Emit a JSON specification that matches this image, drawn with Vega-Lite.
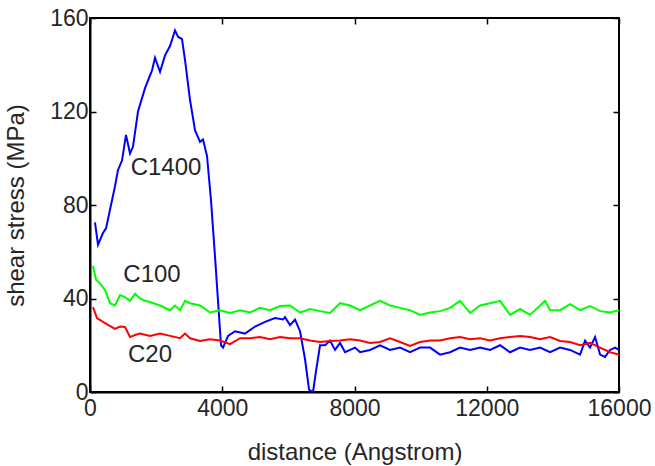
{
  "$schema": "https://vega.github.io/schema/vega-lite/v6.json",
  "width": 529,
  "height": 374,
  "autosize": "none",
  "padding": {"left": 90, "top": 18, "right": 36, "bottom": 74},
  "background": "white",
  "config": {
    "view": {"stroke": "black", "strokeWidth": 2},
    "font": "Liberation Sans",
    "axis": {
      "domainColor": "black", "domainWidth": 2, "tickColor": "black", "tickWidth": 1.5,
      "tickSize": -6, "grid": false, "labelFontSize": 23, "labelColor": "#262626", "labelFlush": false,
      "titleFontSize": 24, "titleColor": "#262626", "titleFontWeight": "normal",
      "labelFont": "Liberation Sans", "titleFont": "Liberation Sans"
    }
  },
  "datasets": {
    "curves": [
      {"x": 151, "y": 72.6, "s": "C1400"}, {"x": 242, "y": 63, "s": "C1400"}, {"x": 393, "y": 68, "s": "C1400"}, {"x": 484, "y": 70, "s": "C1400"},
      {"x": 605, "y": 78, "s": "C1400"}, {"x": 756, "y": 88, "s": "C1400"}, {"x": 847, "y": 95, "s": "C1400"}, {"x": 968, "y": 99, "s": "C1400"},
      {"x": 1089, "y": 110, "s": "C1400"}, {"x": 1210, "y": 102, "s": "C1400"}, {"x": 1301, "y": 105, "s": "C1400"}, {"x": 1452, "y": 120, "s": "C1400"},
      {"x": 1664, "y": 130, "s": "C1400"}, {"x": 1876, "y": 137.6, "s": "C1400"}, {"x": 1966, "y": 143, "s": "C1400"}, {"x": 2118, "y": 137, "s": "C1400"},
      {"x": 2269, "y": 144, "s": "C1400"}, {"x": 2420, "y": 148, "s": "C1400"}, {"x": 2571, "y": 154.7, "s": "C1400"}, {"x": 2662, "y": 152, "s": "C1400"},
      {"x": 2783, "y": 151, "s": "C1400"}, {"x": 2874, "y": 142, "s": "C1400"}, {"x": 3025, "y": 125, "s": "C1400"}, {"x": 3176, "y": 112, "s": "C1400"},
      {"x": 3328, "y": 107, "s": "C1400"}, {"x": 3418, "y": 108, "s": "C1400"}, {"x": 3539, "y": 101, "s": "C1400"}, {"x": 3660, "y": 82, "s": "C1400"},
      {"x": 3781, "y": 58, "s": "C1400"}, {"x": 3872, "y": 39, "s": "C1400"}, {"x": 3963, "y": 20, "s": "C1400"}, {"x": 4023, "y": 19, "s": "C1400"},
      {"x": 4175, "y": 24, "s": "C1400"}, {"x": 4386, "y": 26, "s": "C1400"}, {"x": 4689, "y": 25, "s": "C1400"}, {"x": 4991, "y": 28, "s": "C1400"},
      {"x": 5294, "y": 30, "s": "C1400"}, {"x": 5596, "y": 31.6, "s": "C1400"}, {"x": 5838, "y": 31, "s": "C1400"}, {"x": 5899, "y": 32, "s": "C1400"},
      {"x": 6050, "y": 28.6, "s": "C1400"}, {"x": 6201, "y": 31, "s": "C1400"}, {"x": 6353, "y": 26, "s": "C1400"}, {"x": 6504, "y": 14, "s": "C1400"},
      {"x": 6625, "y": 1, "s": "C1400"}, {"x": 6746, "y": 0, "s": "C1400"}, {"x": 6837, "y": 9, "s": "C1400"}, {"x": 6958, "y": 20, "s": "C1400"},
      {"x": 7109, "y": 20, "s": "C1400"}, {"x": 7260, "y": 22, "s": "C1400"}, {"x": 7411, "y": 18, "s": "C1400"}, {"x": 7563, "y": 21, "s": "C1400"},
      {"x": 7714, "y": 17, "s": "C1400"}, {"x": 7865, "y": 18, "s": "C1400"}, {"x": 8016, "y": 19, "s": "C1400"}, {"x": 8168, "y": 17, "s": "C1400"},
      {"x": 8470, "y": 18, "s": "C1400"}, {"x": 8773, "y": 20, "s": "C1400"}, {"x": 9075, "y": 18, "s": "C1400"}, {"x": 9378, "y": 19, "s": "C1400"},
      {"x": 9680, "y": 17, "s": "C1400"}, {"x": 9983, "y": 19, "s": "C1400"}, {"x": 10285, "y": 19, "s": "C1400"}, {"x": 10588, "y": 16, "s": "C1400"},
      {"x": 10890, "y": 17, "s": "C1400"}, {"x": 11193, "y": 19, "s": "C1400"}, {"x": 11495, "y": 18, "s": "C1400"}, {"x": 11798, "y": 19, "s": "C1400"},
      {"x": 12100, "y": 18, "s": "C1400"}, {"x": 12403, "y": 20, "s": "C1400"}, {"x": 12705, "y": 17, "s": "C1400"}, {"x": 13008, "y": 19, "s": "C1400"},
      {"x": 13310, "y": 18, "s": "C1400"}, {"x": 13613, "y": 19, "s": "C1400"}, {"x": 13915, "y": 17, "s": "C1400"}, {"x": 14218, "y": 19, "s": "C1400"},
      {"x": 14520, "y": 18, "s": "C1400"}, {"x": 14823, "y": 16, "s": "C1400"}, {"x": 14974, "y": 22, "s": "C1400"}, {"x": 15125, "y": 19, "s": "C1400"},
      {"x": 15276, "y": 23.5, "s": "C1400"}, {"x": 15428, "y": 16, "s": "C1400"}, {"x": 15579, "y": 15, "s": "C1400"}, {"x": 15730, "y": 18, "s": "C1400"},
      {"x": 15881, "y": 19, "s": "C1400"}, {"x": 16000, "y": 18, "s": "C1400"},

      {"x": 91, "y": 54, "s": "C100"}, {"x": 182, "y": 48, "s": "C100"}, {"x": 303, "y": 46.5, "s": "C100"}, {"x": 454, "y": 43.6, "s": "C100"},
      {"x": 605, "y": 38, "s": "C100"}, {"x": 756, "y": 37, "s": "C100"}, {"x": 908, "y": 41.5, "s": "C100"}, {"x": 1059, "y": 40.6, "s": "C100"},
      {"x": 1210, "y": 39, "s": "C100"}, {"x": 1361, "y": 42, "s": "C100"}, {"x": 1513, "y": 40, "s": "C100"}, {"x": 1664, "y": 39, "s": "C100"},
      {"x": 1815, "y": 38.5, "s": "C100"}, {"x": 2118, "y": 37, "s": "C100"}, {"x": 2420, "y": 35, "s": "C100"}, {"x": 2571, "y": 37, "s": "C100"},
      {"x": 2723, "y": 35, "s": "C100"}, {"x": 2874, "y": 39, "s": "C100"}, {"x": 3025, "y": 38, "s": "C100"}, {"x": 3328, "y": 37, "s": "C100"},
      {"x": 3630, "y": 34, "s": "C100"}, {"x": 3933, "y": 35, "s": "C100"}, {"x": 4235, "y": 33.8, "s": "C100"}, {"x": 4538, "y": 35, "s": "C100"},
      {"x": 4840, "y": 34, "s": "C100"}, {"x": 5143, "y": 36, "s": "C100"}, {"x": 5445, "y": 35, "s": "C100"}, {"x": 5748, "y": 36.8, "s": "C100"},
      {"x": 6050, "y": 37, "s": "C100"}, {"x": 6353, "y": 34, "s": "C100"}, {"x": 6655, "y": 35.5, "s": "C100"}, {"x": 6958, "y": 34.6, "s": "C100"},
      {"x": 7260, "y": 33.8, "s": "C100"}, {"x": 7563, "y": 38, "s": "C100"}, {"x": 7865, "y": 37, "s": "C100"}, {"x": 8168, "y": 35, "s": "C100"},
      {"x": 8470, "y": 37, "s": "C100"}, {"x": 8773, "y": 39, "s": "C100"}, {"x": 9075, "y": 37, "s": "C100"}, {"x": 9378, "y": 36, "s": "C100"},
      {"x": 9680, "y": 35, "s": "C100"}, {"x": 9983, "y": 33, "s": "C100"}, {"x": 10285, "y": 34, "s": "C100"}, {"x": 10588, "y": 34.6, "s": "C100"},
      {"x": 10890, "y": 36, "s": "C100"}, {"x": 11193, "y": 39, "s": "C100"}, {"x": 11495, "y": 33.8, "s": "C100"}, {"x": 11798, "y": 37, "s": "C100"},
      {"x": 12100, "y": 38, "s": "C100"}, {"x": 12403, "y": 39, "s": "C100"}, {"x": 12705, "y": 33, "s": "C100"}, {"x": 13008, "y": 35.5, "s": "C100"},
      {"x": 13310, "y": 33, "s": "C100"}, {"x": 13613, "y": 37, "s": "C100"}, {"x": 13764, "y": 39, "s": "C100"}, {"x": 13915, "y": 35, "s": "C100"},
      {"x": 14218, "y": 35, "s": "C100"}, {"x": 14520, "y": 37.6, "s": "C100"}, {"x": 14823, "y": 35, "s": "C100"}, {"x": 15125, "y": 36.8, "s": "C100"},
      {"x": 15428, "y": 34.6, "s": "C100"}, {"x": 15730, "y": 34, "s": "C100"}, {"x": 16000, "y": 35, "s": "C100"},

      {"x": 91, "y": 36.3, "s": "C20"}, {"x": 212, "y": 31.6, "s": "C20"}, {"x": 454, "y": 29.5, "s": "C20"}, {"x": 756, "y": 27, "s": "C20"},
      {"x": 908, "y": 28, "s": "C20"}, {"x": 1059, "y": 27.8, "s": "C20"}, {"x": 1210, "y": 23.5, "s": "C20"}, {"x": 1361, "y": 24.4, "s": "C20"},
      {"x": 1513, "y": 25, "s": "C20"}, {"x": 1815, "y": 24, "s": "C20"}, {"x": 2118, "y": 25, "s": "C20"}, {"x": 2420, "y": 24, "s": "C20"},
      {"x": 2723, "y": 23, "s": "C20"}, {"x": 2874, "y": 25, "s": "C20"}, {"x": 3025, "y": 23, "s": "C20"}, {"x": 3328, "y": 21.8, "s": "C20"},
      {"x": 3630, "y": 22.6, "s": "C20"}, {"x": 3933, "y": 22, "s": "C20"}, {"x": 4235, "y": 20.5, "s": "C20"}, {"x": 4538, "y": 23, "s": "C20"},
      {"x": 4840, "y": 23, "s": "C20"}, {"x": 5143, "y": 23.5, "s": "C20"}, {"x": 5445, "y": 22.6, "s": "C20"}, {"x": 5748, "y": 23.5, "s": "C20"},
      {"x": 6050, "y": 23, "s": "C20"}, {"x": 6353, "y": 23, "s": "C20"}, {"x": 6655, "y": 22, "s": "C20"}, {"x": 6958, "y": 21.4, "s": "C20"},
      {"x": 7260, "y": 21.8, "s": "C20"}, {"x": 7563, "y": 22, "s": "C20"}, {"x": 7865, "y": 22.6, "s": "C20"}, {"x": 8168, "y": 22, "s": "C20"},
      {"x": 8470, "y": 21, "s": "C20"}, {"x": 8773, "y": 21.4, "s": "C20"}, {"x": 9075, "y": 23, "s": "C20"}, {"x": 9378, "y": 21.4, "s": "C20"},
      {"x": 9680, "y": 19.7, "s": "C20"}, {"x": 9983, "y": 21.4, "s": "C20"}, {"x": 10285, "y": 22, "s": "C20"}, {"x": 10588, "y": 22, "s": "C20"},
      {"x": 10890, "y": 23, "s": "C20"}, {"x": 11193, "y": 23.5, "s": "C20"}, {"x": 11495, "y": 22.6, "s": "C20"}, {"x": 11798, "y": 23, "s": "C20"},
      {"x": 12100, "y": 22, "s": "C20"}, {"x": 12403, "y": 23, "s": "C20"}, {"x": 12705, "y": 23.5, "s": "C20"}, {"x": 13008, "y": 24, "s": "C20"},
      {"x": 13310, "y": 23.5, "s": "C20"}, {"x": 13613, "y": 22.6, "s": "C20"}, {"x": 13915, "y": 23.5, "s": "C20"}, {"x": 14218, "y": 21.8, "s": "C20"},
      {"x": 14520, "y": 21.4, "s": "C20"}, {"x": 14823, "y": 20, "s": "C20"}, {"x": 15125, "y": 21, "s": "C20"}, {"x": 15428, "y": 19, "s": "C20"},
      {"x": 15730, "y": 17, "s": "C20"}, {"x": 16000, "y": 16, "s": "C20"}
    ],
    "labels": [
      {"x": 2300, "y": 96, "t": "C1400"},
      {"x": 1875, "y": 50, "t": "C100"},
      {"x": 1815, "y": 16, "t": "C20"}
    ]
  },
  "layer": [
    {
      "data": {"name": "curves"},
      "mark": {"type": "line", "strokeWidth": 2, "clip": true},
      "encoding": {
        "x": {"field": "x", "type": "quantitative", "scale": {"domain": [0, 16000], "nice": false, "zero": false},
              "axis": {"orient": "bottom", "values": [0, 4000, 8000, 12000, 16000], "format": "d", "title": "distance (Angstrom)", "labelPadding": 11, "titlePadding": 20}},
        "y": {"field": "y", "type": "quantitative", "scale": {"domain": [0, 160], "nice": false, "zero": false},
              "axis": {"orient": "left", "values": [0, 40, 80, 120, 160], "format": "d", "title": "shear stress (MPa)", "labelPadding": 8, "titlePadding": 21}},
        "color": {"field": "s", "type": "nominal", "scale": {"domain": ["C1400", "C100", "C20"], "range": ["#0000ff", "#00ff00", "#ff0000"]}, "legend": null},
        "detail": {"field": "s"}
      }
    },
    {
      "data": {"name": "labels"},
      "mark": {"type": "text", "fontSize": 24, "color": "#262626", "font": "Liberation Sans"},
      "encoding": {
        "x": {"field": "x", "type": "quantitative", "scale": {"domain": [0, 16000], "nice": false, "zero": false},
              "axis": {"orient": "top", "values": [0, 4000, 8000, 12000, 16000], "labelExpr": "''", "title": null, "domain": false, "tickSize": 6, "offset": -6, "tickColor": "black", "zindex": 1}},
        "y": {"field": "y", "type": "quantitative", "scale": {"domain": [0, 160], "nice": false, "zero": false},
              "axis": {"orient": "right", "values": [0, 40, 80, 120, 160], "labelExpr": "''", "title": null, "domain": false, "tickSize": 6, "offset": -6, "tickColor": "black", "zindex": 1}},
        "text": {"field": "t"}
      }
    }
  ],
  "resolve": {"scale": {"x": "independent", "y": "independent"}, "axis": {"x": "independent", "y": "independent"}}
}
